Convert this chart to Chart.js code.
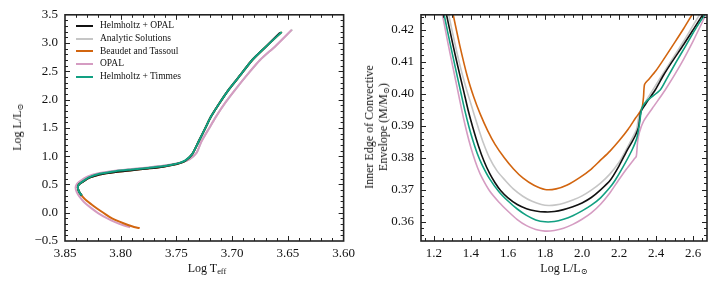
<!DOCTYPE html>
<html>
<head>
<meta charset="utf-8">
<script src="https://cdn.jsdelivr.net/npm/chart.js@4.4.0/dist/chart.umd.min.js"></script>
<style>
  body { margin: 0; background: #fff; }
  #page { position: relative; width: 720px; height: 288px; overflow: hidden; font-family: "Liberation Serif", "DejaVu Serif", serif; color: #111; }
  .box { position: absolute; top: 0; width: 360px; height: 288px; }
  .lbl { position: absolute; white-space: nowrap; font-size: 12px; line-height: 14px; transform: translate(-50%, -50%); text-align: center; }
  .rot { transform: translate(-50%, -50%) rotate(-90deg); }
  .lbl sub { font-size: 70%; vertical-align: -2px; line-height: 0; }
  #legend { position: absolute; left: 76px; top: 19px; font-size: 9.5px; }
  #legend .row { height: 12.8px; line-height: 12.8px; white-space: nowrap; }
  #legend .sw { display: inline-block; width: 17px; height: 2px; vertical-align: middle; margin-right: 7px; }
</style>
</head>
<body>
<div id="page">
  <div class="box" style="left:0"><canvas id="hrChart" width="360" height="288"></canvas></div>
  <div class="box" style="left:360px"><canvas id="envChart" width="360" height="288"></canvas></div>
  <div id="legend"></div>
  <div class="lbl rot" style="left:17px; top:127px">Log L/L<sub>⊙</sub></div>
  <div class="lbl" style="left:207px; top:268px">Log T<sub>eff</sub></div>
  <div class="lbl rot" style="left:376px; top:127px">Inner Edge of Convective<br>Envelope (M/M<sub>⊙</sub>)</div>
  <div class="lbl" style="left:564px; top:268px">Log L/L<sub>⊙</sub></div>
</div>
<script>
// SERIES NAMES AND COLOURS (LEGEND ORDER)
var seriesNames = ['Helmholtz + OPAL', 'Analytic Solutions', 'Beaudet and Tassoul', 'OPAL', 'Helmholtz + Timmes'];
var seriesColors = ['#111111', '#c6c6c6', '#d2650f', '#d59cc2', '#12a082'];
var drawOrder = [1, 4, 2, 3, 0];

// LEFT PANEL: HR TRACKS (LOG TEFF, LOG L)
var hrBlackT = [3.835, 3.8375, 3.8385, 3.8375, 3.835, 3.828, 3.819, 3.8047, 3.790, 3.7754, 3.762, 3.753, 3.747, 3.742, 3.736, 3.730, 3.724, 3.719, 3.711, 3.7024, 3.692, 3.682, 3.669, 3.657];
var hrBlackL = [0.303, 0.375, 0.449, 0.50, 0.536, 0.620, 0.677, 0.722, 0.752, 0.783, 0.815, 0.847, 0.878, 0.920, 1.031, 1.264, 1.50, 1.70, 1.95, 2.195, 2.45, 2.70, 2.95, 3.185];
var hrGreyT = [3.835, 3.8375, 3.8385, 3.8375, 3.835, 3.828, 3.819, 3.805, 3.790, 3.775, 3.761, 3.751, 3.744, 3.738, 3.732, 3.7275, 3.7205, 3.7145, 3.706, 3.6965, 3.686, 3.675, 3.661, 3.646];
var hrGreyL = [0.303, 0.375, 0.449, 0.50, 0.54, 0.63, 0.69, 0.737, 0.768, 0.797, 0.83, 0.863, 0.897, 0.945, 1.055, 1.264, 1.50, 1.70, 1.95, 2.195, 2.45, 2.70, 2.95, 3.24];
var hrOrangeT = [3.783, 3.786, 3.790, 3.797, 3.805, 3.8105, 3.818, 3.825, 3.831, 3.835, 3.8375, 3.8385, 3.8375, 3.835, 3.828, 3.819, 3.8047, 3.790, 3.7754, 3.762, 3.753, 3.747, 3.742, 3.736, 3.730, 3.724, 3.719, 3.711, 3.7024, 3.692, 3.682, 3.669, 3.6555];
var hrOrangeL = [-0.272, -0.262, -0.240, -0.190, -0.125, -0.068, 0.030, 0.129, 0.220, 0.303, 0.375, 0.449, 0.50, 0.536, 0.62, 0.677, 0.722, 0.752, 0.783, 0.815, 0.847, 0.878, 0.920, 1.031, 1.264, 1.50, 1.70, 1.95, 2.195, 2.45, 2.70, 2.95, 3.197];
var hrPinkT = [3.7915, 3.797, 3.805, 3.812, 3.820, 3.827, 3.833, 3.837, 3.8395, 3.8405, 3.8395, 3.837, 3.830, 3.820, 3.805, 3.790, 3.775, 3.761, 3.751, 3.744, 3.738, 3.732, 3.7275, 3.7205, 3.7145, 3.706, 3.6965, 3.686, 3.675, 3.661, 3.6467];
var hrPinkL = [-0.258, -0.225, -0.165, -0.100, -0.010, 0.090, 0.190, 0.285, 0.365, 0.445, 0.505, 0.552, 0.638, 0.698, 0.742, 0.772, 0.802, 0.835, 0.868, 0.900, 0.950, 1.060, 1.264, 1.50, 1.70, 1.95, 2.195, 2.45, 2.70, 2.95, 3.233];
var hrTealT = [3.835, 3.8375, 3.8385, 3.8375, 3.835, 3.828, 3.819, 3.8047, 3.790, 3.7754, 3.762, 3.753, 3.747, 3.742, 3.736, 3.730, 3.724, 3.719, 3.711, 3.7024, 3.692, 3.682, 3.669, 3.6555];
var hrTealL = [0.303, 0.375, 0.449, 0.50, 0.540, 0.628, 0.688, 0.735, 0.765, 0.793, 0.822, 0.852, 0.882, 0.925, 1.031, 1.264, 1.50, 1.70, 1.95, 2.195, 2.45, 2.70, 2.95, 3.197];

// RIGHT PANEL: INNER EDGE OF CONVECTIVE ENVELOPE (LOG L, M/MSUN)
var envBlackL = [1.24, 1.269, 1.30, 1.33, 1.36, 1.385, 1.41, 1.44, 1.47, 1.50, 1.53, 1.56, 1.60, 1.65, 1.70, 1.75, 1.80, 1.85, 1.90, 1.95, 2.00, 2.05, 2.10, 2.151, 2.20, 2.242, 2.27, 2.29, 2.305, 2.318, 2.34, 2.395, 2.44, 2.485, 2.55, 2.60, 2.647, 2.66];
var envBlackM = [0.4325, 0.4244, 0.4160, 0.4083, 0.4010, 0.3948, 0.3895, 0.3838, 0.3790, 0.3752, 0.3722, 0.3698, 0.3675, 0.3654, 0.3641, 0.3634, 0.3631, 0.3632, 0.3638, 0.3647, 0.3659, 0.3676, 0.3700, 0.3729, 0.3775, 0.3822, 0.3850, 0.3872, 0.3895, 0.3944, 0.3965, 0.4012, 0.4058, 0.4099, 0.4155, 0.4200, 0.4243, 0.4255];
var envGreyL = [1.255, 1.281, 1.31, 1.34, 1.37, 1.412, 1.44, 1.466, 1.50, 1.54, 1.584, 1.63, 1.68, 1.73, 1.78, 1.82, 1.86, 1.90, 1.95, 2.00, 2.05, 2.10, 2.15, 2.20, 2.235, 2.27, 2.295, 2.31, 2.34, 2.38, 2.45, 2.50, 2.55, 2.63, 2.645];
var envGreyM = [0.4320, 0.4244, 0.4165, 0.4090, 0.4025, 0.3945, 0.3893, 0.3848, 0.3800, 0.3760, 0.3730, 0.3702, 0.3680, 0.3664, 0.3654, 0.3651, 0.3653, 0.3658, 0.3668, 0.3681, 0.3699, 0.3721, 0.3749, 0.3786, 0.3822, 0.3860, 0.3890, 0.3940, 0.3972, 0.4010, 0.4075, 0.4120, 0.4165, 0.4243, 0.4257];
var envOrangeL = [1.29, 1.305, 1.34, 1.38, 1.415, 1.449, 1.49, 1.53, 1.58, 1.63, 1.68, 1.74, 1.80, 1.86, 1.92, 1.989, 2.05, 2.097, 2.151, 2.20, 2.25, 2.29, 2.314, 2.325, 2.332, 2.338, 2.36, 2.40, 2.431, 2.50, 2.55, 2.59, 2.60];
var envOrangeM = [0.4285, 0.4244, 0.4150, 0.4055, 0.3990, 0.3938, 0.3885, 0.3842, 0.3800, 0.3765, 0.3737, 0.3714, 0.3701, 0.3703, 0.3715, 0.3739, 0.3765, 0.3791, 0.3821, 0.3853, 0.3890, 0.3925, 0.3944, 0.3958, 0.3990, 0.4030, 0.4045, 0.4073, 0.4099, 0.4160, 0.4205, 0.4243, 0.4252];
var envPinkL = [1.225, 1.247, 1.275, 1.30, 1.325, 1.350, 1.37, 1.39, 1.41, 1.435, 1.46, 1.50, 1.55, 1.60, 1.65, 1.70, 1.75, 1.80, 1.85, 1.90, 1.95, 2.00, 2.05, 2.10, 2.15, 2.196, 2.24, 2.28, 2.293, 2.300, 2.31, 2.332, 2.38, 2.449, 2.53, 2.60, 2.665, 2.68];
var envPinkM = [0.4310, 0.4244, 0.4160, 0.4090, 0.4020, 0.3950, 0.3898, 0.3852, 0.3812, 0.3770, 0.3737, 0.3697, 0.3662, 0.3633, 0.3607, 0.3588, 0.3576, 0.3571, 0.3573, 0.3580, 0.3592, 0.3608, 0.3628, 0.3655, 0.3690, 0.3729, 0.3765, 0.3795, 0.3805, 0.3850, 0.3880, 0.3914, 0.3955, 0.4012, 0.4089, 0.4165, 0.4243, 0.4262];
var envTealL = [1.235, 1.256, 1.29, 1.32, 1.345, 1.368, 1.39, 1.41, 1.435, 1.46, 1.50, 1.55, 1.60, 1.65, 1.70, 1.75, 1.80, 1.85, 1.90, 1.95, 2.00, 2.05, 2.10, 2.15, 2.178, 2.22, 2.268, 2.296, 2.31, 2.323, 2.35, 2.422, 2.46, 2.508, 2.56, 2.61, 2.66, 2.675];
var envTealM = [0.4310, 0.4244, 0.4150, 0.4070, 0.4005, 0.3945, 0.3895, 0.3855, 0.3812, 0.3778, 0.3735, 0.3695, 0.3665, 0.3640, 0.3620, 0.3606, 0.3600, 0.3601, 0.3608, 0.3619, 0.3634, 0.3652, 0.3675, 0.3707, 0.3729, 0.3770, 0.3822, 0.3862, 0.3905, 0.3955, 0.3978, 0.4012, 0.4050, 0.4099, 0.4150, 0.4200, 0.4245, 0.4258];

// TICKS
var hrXTicks = [3.85, 3.80, 3.75, 3.70, 3.65, 3.60];
var hrXTickLabels = ['3.85', '3.80', '3.75', '3.70', '3.65', '3.60'];
var hrYTicks = [-0.5, 0, 0.5, 1, 1.5, 2, 2.5, 3, 3.5];
var hrYTickLabels = ['\u22120.5', '0.0', '0.5', '1.0', '1.5', '2.0', '2.5', '3.0', '3.5'];
var envXTicks = [1.2, 1.4, 1.6, 1.8, 2.0, 2.2, 2.4, 2.6];
var envXTickLabels = ['1.2', '1.4', '1.6', '1.8', '2.0', '2.2', '2.4', '2.6'];
var envYTicks = [0.36, 0.37, 0.38, 0.39, 0.40, 0.41, 0.42];
var envYTickLabels = ['0.36', '0.37', '0.38', '0.39', '0.40', '0.41', '0.42'];

var fontFamily = '"Liberation Serif", "DejaVu Serif", serif';

function pairs(xs, ys) {
  return xs.map(function (v, i) { return { x: v, y: ys[i] }; });
}

function steps(from, to, step) {
  var out = [];
  var n = Math.round((to - from) / step);
  for (var i = 0; i <= n; i++) out.push(from + i * step);
  return out;
}

// FRAME AND INWARD TICKS ON ALL FOUR SIDES
var frameTicks = {
  id: 'frameTicks',
  afterDraw: function (chart, args, opts) {
    var ctx = chart.ctx, a = chart.chartArea, x = chart.scales.x, y = chart.scales.y;
    ctx.save();
    ctx.strokeStyle = '#222';
    ctx.lineWidth = 1;
    ctx.beginPath();
    function xMarks(vals, len) {
      vals.forEach(function (v) {
        var px = Math.round(x.getPixelForValue(v)) + 0.5;
        if (px < a.left + 1 || px > a.right - 1) return;
        ctx.moveTo(px, a.bottom); ctx.lineTo(px, a.bottom - len);
        ctx.moveTo(px, a.top); ctx.lineTo(px, a.top + len);
      });
    }
    function yMarks(vals, len) {
      vals.forEach(function (v) {
        var py = Math.round(y.getPixelForValue(v)) + 0.5;
        if (py < a.top + 1 || py > a.bottom - 1) return;
        ctx.moveTo(a.left, py); ctx.lineTo(a.left + len, py);
        ctx.moveTo(a.right, py); ctx.lineTo(a.right - len, py);
      });
    }
    xMarks(opts.xMajor, 5);
    xMarks(opts.xMinor, 3);
    yMarks(opts.yMajor, 5);
    yMarks(opts.yMinor, 3);
    ctx.stroke();
    ctx.lineWidth = 1.6;
    ctx.strokeRect(a.left, a.top, a.right - a.left, a.bottom - a.top);
    ctx.restore();
  }
};

function makeDatasets(list, width) {
  return list.map(function (d, i) {
    return {
      label: seriesNames[i],
      data: d,
      showLine: true,
      borderColor: seriesColors[i],
      backgroundColor: seriesColors[i],
      borderWidth: width,
      pointRadius: 0,
      tension: 0.25,
      order: drawOrder[i]
    };
  });
}

function axis(min, max, ticks, labels, fit, extra) {
  var o = {
    type: 'linear',
    min: min,
    max: max,
    grid: { display: false, drawTicks: false },
    border: { display: false },
    afterBuildTicks: function (s) { s.ticks = ticks.map(function (v) { return { value: v }; }); },
    afterFit: fit,
    ticks: {
      autoSkip: false,
      maxRotation: 0,
      color: '#111',
      font: { family: fontFamily, size: 13 },
      callback: function (v, i) { return labels[i]; }
    }
  };
  for (var k in extra) o[k] = extra[k];
  return o;
}

function baseOptions(padding, scales, tickOpts) {
  return {
    responsive: false,
    animation: false,
    devicePixelRatio: 1,
    layout: { padding: padding },
    scales: scales,
    plugins: { legend: { display: false }, tooltip: { enabled: false }, frameTicks: tickOpts }
  };
}

// LEFT CHART
var hrX = axis(3.60, 3.85, hrXTicks, hrXTickLabels, function (s) { s.height = 47; }, { reverse: true });
hrX.ticks.padding = 5;
var hrY = axis(-0.5, 3.5, hrYTicks, hrYTickLabels, function (s) { s.width = 65; }, {});
hrY.ticks.padding = 7;
new Chart(document.getElementById('hrChart'), {
  type: 'scatter',
  data: {
    datasets: makeDatasets([
      pairs(hrBlackT, hrBlackL), pairs(hrGreyT, hrGreyL), pairs(hrOrangeT, hrOrangeL),
      pairs(hrPinkT, hrPinkL), pairs(hrTealT, hrTealL)
    ], 2)
  },
  options: baseOptions({ left: 0, right: 10, top: 12, bottom: 0 }, { x: hrX, y: hrY },
    { xMajor: hrXTicks, xMinor: steps(3.60, 3.85, 0.01), yMajor: hrYTicks, yMinor: steps(-0.5, 3.5, 0.1) }),
  plugins: [frameTicks]
});

// RIGHT CHART
var envX = axis(1.13, 2.675, envXTicks, envXTickLabels, function (s) { s.height = 47; }, {});
envX.ticks.padding = 5;
var envY = axis(0.354, 0.4247, envYTicks, envYTickLabels, function (s) { s.width = 61; }, {});
envY.ticks.padding = 7;
new Chart(document.getElementById('envChart'), {
  type: 'scatter',
  data: {
    datasets: makeDatasets([
      pairs(envBlackL, envBlackM), pairs(envGreyL, envGreyM), pairs(envOrangeL, envOrangeM),
      pairs(envPinkL, envPinkM), pairs(envTealL, envTealM)
    ], 1.6)
  },
  options: baseOptions({ left: 0, right: 13, top: 12, bottom: 0 }, { x: envX, y: envY },
    { xMajor: envXTicks, xMinor: steps(1.15, 2.65, 0.05), yMajor: envYTicks, yMinor: steps(0.354, 0.424, 0.002) }),
  plugins: [frameTicks]
});

// LEGEND (HTML TEXT, IN LEGEND ORDER)
var legend = document.getElementById('legend');
seriesNames.forEach(function (name, i) {
  var row = document.createElement('div');
  row.className = 'row';
  row.innerHTML = '<span class="sw" style="background:' + seriesColors[i] + '"></span>' + name;
  legend.appendChild(row);
});
</script>
</body>
</html>
